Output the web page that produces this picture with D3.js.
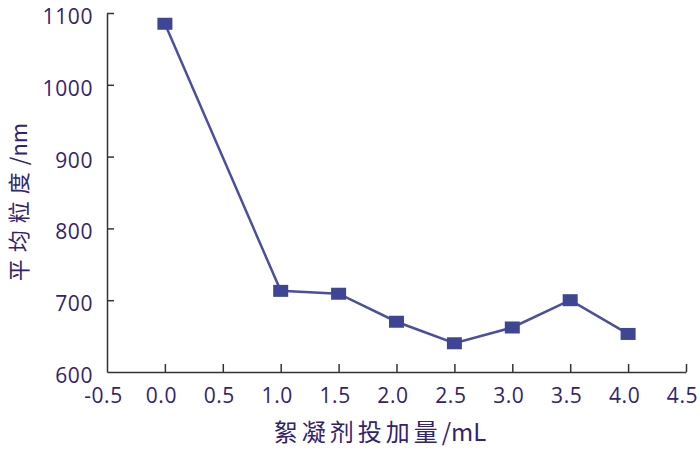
<!DOCTYPE html>
<html>
<head>
<meta charset="utf-8">
<script src="https://cdn.jsdelivr.net/npm/d3@7"></script>
<style>
  html, body { margin: 0; padding: 0; background: #fff; }
  svg { display: block; }
  .tick text { font-family: "Open Sans", sans-serif; font-size: 21px; fill: #33226e; letter-spacing: 0.6px; }
  .axis path, .axis line { stroke: #333; stroke-width: 1.5; }
</style>
</head>
<body>
<svg id="chart" width="700" height="456"></svg>
<script>
// Data
const dosage = [0.0, 1.0, 1.5, 2.0, 2.5, 3.0, 3.5, 4.0];
const particleSize = [1085, 713, 709, 670, 640, 662, 700, 653];
const xTicks = [-0.5, 0.0, 0.5, 1.0, 1.5, 2.0, 2.5, 3.0, 3.5, 4.0, 4.5];
const yTicks = [600, 700, 800, 900, 1000, 1100];
const xTitle = "絮凝剂投加量/mL";
const yTitle = "平均粒度/nm";

const svg = d3.select("#chart");
const x = d3.scaleLinear().domain([-0.5, 4.5]).range([107, 686]);
const y = d3.scaleLinear().domain([600, 1100]).range([372, 13]);

const textColor = "#33226e";

// X axis
const gx = svg.append("g").attr("class", "axis")
  .attr("transform", `translate(0,${y(600)})`)
  .call(d3.axisBottom(x).tickValues(xTicks)
    .tickSizeInner(-8).tickSizeOuter(0).tickPadding(16));
gx.selectAll(".tick text")
  .text(d => d3.format(".1f")(d).replace("−", "-"))
  .attr("x", -4);

// Y axis
const gy = svg.append("g").attr("class", "axis")
  .attr("transform", `translate(${x(-0.5)},0)`)
  .call(d3.axisLeft(y).tickValues(yTicks).tickFormat(d3.format("d"))
    .tickSizeInner(-7).tickSizeOuter(0).tickPadding(14));
gy.selectAll(".tick text").attr("dy", "0.5em");
gy.selectAll(".tick").filter(d => d === 600).select("line").remove();
gx.selectAll(".tick").filter(d => d === -0.5).select("line").remove();

// Line
const line = d3.line().x((d, i) => x(dosage[i])).y(d => y(d));
svg.append("path")
  .datum(particleSize)
  .attr("d", line)
  .attr("fill", "none")
  .attr("stroke", "#4a4f9f")
  .attr("stroke-width", 2.5);

// Markers
svg.append("g").selectAll("rect")
  .data(particleSize)
  .join("rect")
  .attr("x", (d, i) => x(dosage[i]) - 7.5)
  .attr("y", d => y(d) - 6)
  .attr("width", 15)
  .attr("height", 12)
  .attr("fill", "#3f4595");

// Titles
function titleText(sel, str, spacing) {
  const i = str.indexOf("/");
  sel.append("tspan").attr("letter-spacing", spacing).text(str.slice(0, i));
  sel.append("tspan").attr("letter-spacing", 0).text(str.slice(i));
}

const xt = svg.append("text")
  .attr("x", 380).attr("y", 441)
  .attr("text-anchor", "middle")
  .attr("font-family", "'Noto Sans CJK SC', sans-serif")
  .attr("font-size", 24)
  .attr("fill", textColor);
titleText(xt, xTitle, 4);

const yt = svg.append("text")
  .attr("transform", "translate(27,202) rotate(-90)")
  .attr("text-anchor", "middle")
  .attr("font-family", "'Noto Sans CJK SC', sans-serif")
  .attr("font-size", 22)
  .attr("fill", textColor);
titleText(yt, yTitle, 7);
</script>
</body>
</html>
